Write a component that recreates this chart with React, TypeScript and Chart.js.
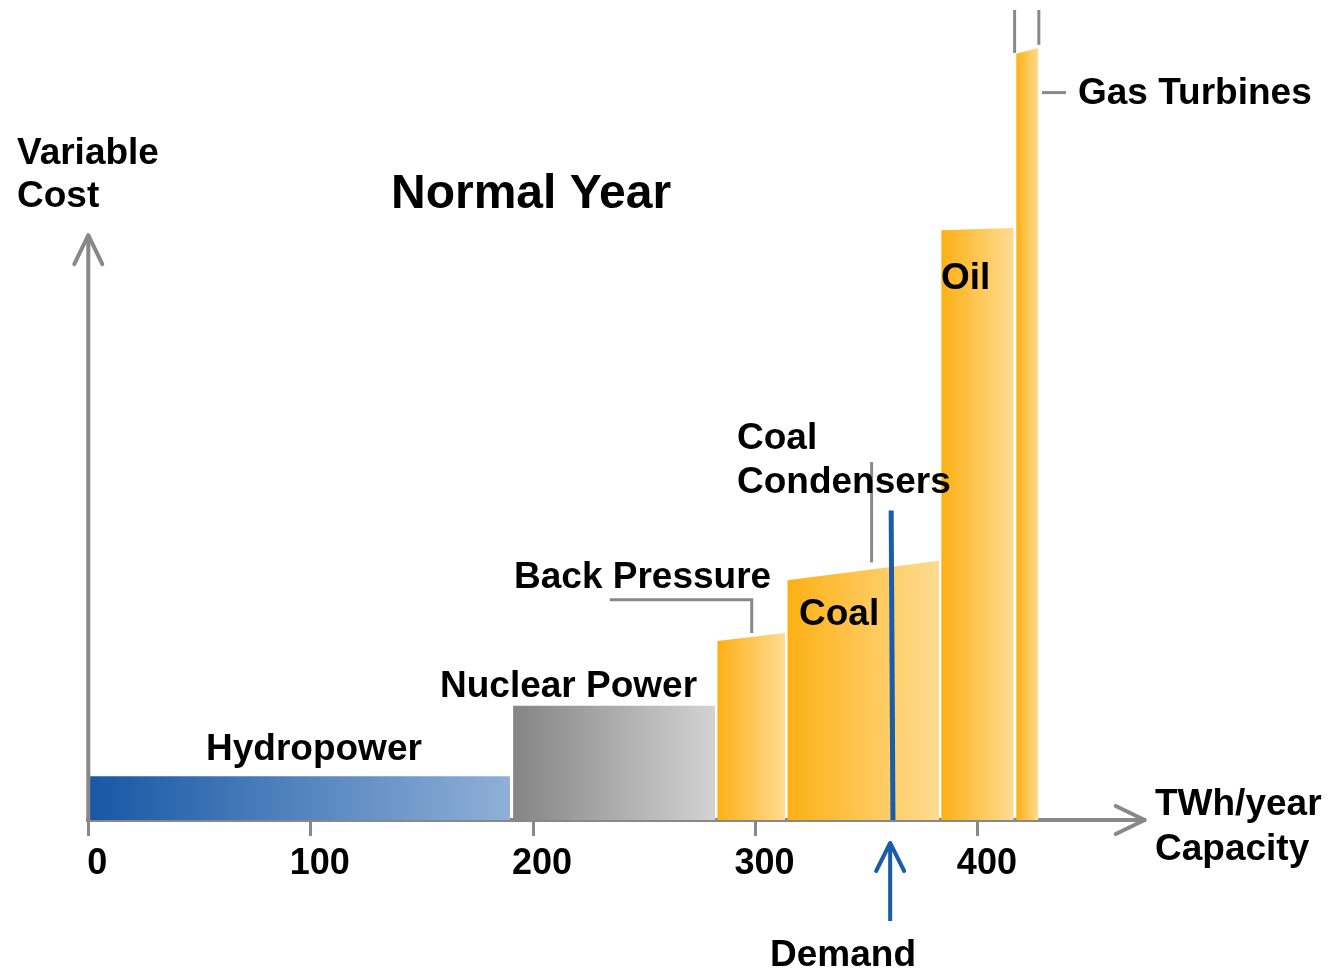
import React, { useEffect, useRef } from "react";
import { Chart, registerables } from "chart.js";

Chart.register(...registerables);

// ---- data ----
const SOURCES = ["Hydropower", "Nuclear Power", "Back Pressure", "Coal", "Oil", "Gas Turbines"];
const CAP_START = [0, 191.0, 282.8, 314.3, 383.5, 417.2]; // TWh/year
const CAP_END = [189.6, 281.8, 313.3, 382.6, 416.1, 427.2];
const COST_START = [5.4, 14.1, 22.1, 29.6, 72.8, 94.6]; // relative variable cost
const COST_END = [5.4, 14.1, 23.1, 32.0, 73.1, 95.3];
const X_TICKS = [0, 100, 200, 300, 400];
const X_MAX = 475;
const Y_MAX = 100;
const Y_AXIS_TOP = 72.2;
const DEMAND_X = [361.0, 361.8];
const DEMAND_Y = [38.2, 0];

// leader lines (data coordinates)
const LEADER_BACK_PRESSURE = [
  [234.5, 27.2],
  [298.3, 27.2],
  [298.3, 23.1],
];
const LEADER_CONDENSERS = [
  [352.2, 44.2],
  [352.2, 31.8],
];
const LEADER_GAS = [
  [428.8, 89.8],
  [439.6, 89.8],
];
const BREAK_MARKS = [
  [416.5, 94.7],
  [427.4, 95.7],
];

// ---- styles ----
const GRADIENTS: [string, string][] = [
  ["#1757A5", "#8FB0D7"],
  ["#858585", "#D3D3D3"],
  ["#FDB015", "#FFDC91"],
  ["#FDB015", "#FFDC91"],
  ["#FDB015", "#FFDC91"],
  ["#FDB015", "#FFDC91"],
];
const GRAY = "#888888";
const BLUE = "#1A5CA8";
const FONT = '"Liberation Sans", Arial, Helvetica, sans-serif';

const decorPlugin = {
  id: "decor",
  afterDatasetsDraw(chart: any) {
    // condensed look for the axis tick labels (x scale is drawn after datasets)
    (chart.ctx as any).letterSpacing = "-2.5px";
  },
  afterDraw(chart: any) {
    const { ctx, scales } = chart;
    (ctx as any).letterSpacing = "0px";
    const x = scales.x;
    const y = scales.y;
    const px = (v: number) => x.getPixelForValue(v);
    const py = (v: number) => y.getPixelForValue(v);
    ctx.save();

    // y axis with arrow
    ctx.strokeStyle = GRAY;
    ctx.lineWidth = 4;
    ctx.lineCap = "butt";
    const ax = px(0);
    const top = py(Y_AXIS_TOP);
    ctx.beginPath();
    ctx.moveTo(ax, py(0) + 2);
    ctx.lineTo(ax, top + 2);
    ctx.stroke();
    ctx.lineCap = "round";
    ctx.lineJoin = "round";
    ctx.beginPath();
    ctx.moveTo(ax - 14, top + 29);
    ctx.lineTo(ax, top);
    ctx.lineTo(ax + 14, top + 29);
    ctx.stroke();

    // x axis arrow head
    const xr = px(X_MAX);
    const yb = py(0);
    ctx.beginPath();
    ctx.moveTo(xr - 29, yb - 14);
    ctx.lineTo(xr, yb);
    ctx.lineTo(xr - 29, yb + 14);
    ctx.stroke();

    // leader lines & break marks
    ctx.lineWidth = 3;
    ctx.lineCap = "butt";
    ctx.lineJoin = "miter";
    const poly = (pts: number[][]) => {
      ctx.beginPath();
      pts.forEach(([a, b], i) => (i ? ctx.lineTo(px(a), py(b)) : ctx.moveTo(px(a), py(b))));
      ctx.stroke();
    };
    poly(LEADER_BACK_PRESSURE);
    poly(LEADER_CONDENSERS);
    poly(LEADER_GAS);
    BREAK_MARKS.forEach(([a, b]) => poly([[a, b], [a, Y_MAX]]));

    // demand arrow below the axis
    ctx.strokeStyle = BLUE;
    ctx.lineWidth = 4;
    const dx = px(DEMAND_X[0]) - 1;
    ctx.beginPath();
    ctx.moveTo(dx, yb + 101);
    ctx.lineTo(dx, yb + 24);
    ctx.stroke();
    ctx.lineCap = "round";
    ctx.lineJoin = "round";
    ctx.beginPath();
    ctx.moveTo(dx - 14, yb + 51);
    ctx.lineTo(dx, yb + 23);
    ctx.lineTo(dx + 14, yb + 51);
    ctx.stroke();

    // texts
    ctx.fillStyle = "#000";
    ctx.textBaseline = "alphabetic";
    ctx.textAlign = "left";
    const texts: [string, number, number, number][] = [
      ["Variable", 17, 164, 37],
      ["Cost", 17, 207, 37],
      ["Normal Year", 391, 208, 48],
      [SOURCES[0], 206, 760, 37],
      [SOURCES[1], 440, 697, 37],
      [SOURCES[2], 514, 588, 37],
      ["Coal", 737, 449, 37],
      ["Condensers", 737, 493, 37],
      [SOURCES[3], 799, 625, 37],
      [SOURCES[4], 941, 289, 37],
      [SOURCES[5], 1078, 104, 37],
      ["TWh/year", 1155, 815, 37],
      ["Capacity", 1155, 860, 37],
      ["Demand", 770, 966, 37],
    ];
    texts.forEach(([t, tx, ty, s]) => {
      ctx.font = `bold ${s}px ${FONT}`;
      ctx.fillText(t, tx, ty);
    });
    ctx.restore();
  },
};

export default function App() {
  const ref = useRef<HTMLCanvasElement | null>(null);

  useEffect(() => {
    if (!ref.current) return;
    const blockSets = SOURCES.map((name, i) => ({
      label: name,
      data: [
        { x: CAP_START[i], y: COST_START[i] },
        { x: CAP_END[i], y: COST_END[i] },
      ],
      fill: "origin",
      borderWidth: 0,
      borderColor: "rgba(0,0,0,0)",
      pointRadius: 0,
      tension: 0,
      order: 2,
      backgroundColor: (c: any) => {
        const chart = c.chart;
        if (!chart.chartArea) return GRADIENTS[i][0];
        const sx = chart.scales.x;
        const g = chart.ctx.createLinearGradient(
          sx.getPixelForValue(CAP_START[i]),
          0,
          sx.getPixelForValue(CAP_END[i]),
          0
        );
        g.addColorStop(0, GRADIENTS[i][0]);
        g.addColorStop(1, GRADIENTS[i][1]);
        return g;
      },
    }));
    const demandSet = {
      label: "Demand",
      data: DEMAND_X.map((v, i) => ({ x: v, y: DEMAND_Y[i] })),
      fill: false,
      borderColor: BLUE,
      borderWidth: 5,
      pointRadius: 0,
      order: 0,
    };

    const chart = new Chart(ref.current, {
      type: "line",
      data: { datasets: [demandSet, ...blockSets] as any },
      options: {
        responsive: false,
        animation: false,
        devicePixelRatio: 1,
        layout: { padding: { left: 88.3, right: 191.3, top: 10, bottom: 0 } },
        plugins: { legend: { display: false }, tooltip: { enabled: false } },
        scales: {
          x: {
            type: "linear",
            min: 0,
            max: X_MAX,
            z: 1,
            afterBuildTicks: (s: any) => {
              s.ticks = X_TICKS.map((v) => ({ value: v }));
            },
            afterFit: (s: any) => {
              s.height = 152;
            },
            border: { display: true, color: GRAY, width: 4 },
            grid: {
              display: true,
              drawOnChartArea: false,
              drawTicks: true,
              tickLength: 16,
              color: GRAY,
              lineWidth: 3,
            },
            ticks: {
              color: "#000",
              padding: 6,
              labelOffset: 9,
              maxRotation: 0,
              autoSkip: false,
              font: {
                family: FONT,
                size: 36,
                weight: "bold",
              },
              callback: (v: any) => String(v),
            },
          },
          y: { type: "linear", min: 0, max: Y_MAX, display: false },
        },
      },
      plugins: [decorPlugin],
    } as any);
    return () => chart.destroy();
  }, []);

  return (
    <div style={{ position: "fixed", left: 0, top: 0, width: 1336, height: 972, background: "#fff" }}>
      <canvas ref={ref} width={1336} height={972} style={{ display: "block" }} />
    </div>
  );
}
